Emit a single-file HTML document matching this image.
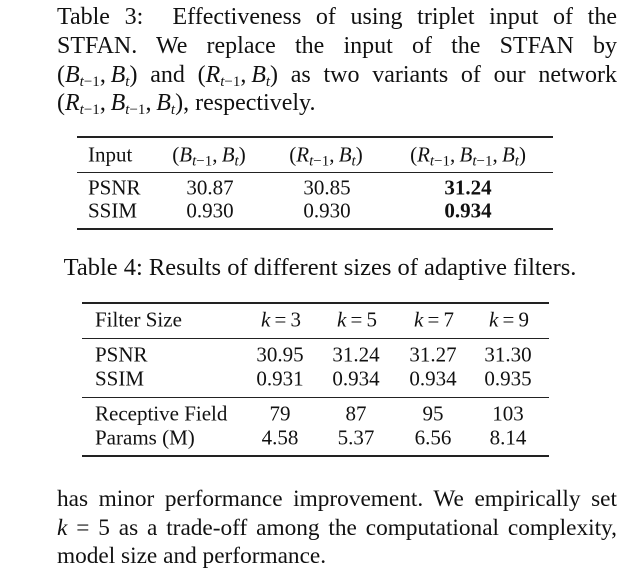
<!DOCTYPE html>
<html><head><meta charset="utf-8"><style>
body{margin:0;width:642px;height:578px;background:#fff;font-family:"Liberation Serif",serif;color:#111;position:relative;overflow:hidden}
.j{position:absolute;left:57px;width:560px;font-size:24px;line-height:28px;height:28px;text-align:justify;text-align-last:justify;white-space:nowrap;transform:translateY(-50%)}
.j.n{text-align-last:left}
.j.s{font-size:23.3px}
.t{position:absolute;font-size:21px;white-space:nowrap;transform:translate(-50%,-50%)}
.l{position:absolute;font-size:21px;white-space:nowrap;transform:translateY(-50%)}
.r{position:absolute;background:#222}
i{font-style:italic}sub{font-size:15px;vertical-align:-4px;line-height:0}
b{font-weight:bold}
</style></head><body>
<div>
<div class="j" style="top:17px">Table 3:&nbsp; Effectiveness of using triplet input of the</div>
<div class="j" style="top:46px">STFAN. We replace the input of the STFAN by</div>
<div class="j" style="top:75px">(<i>B</i><sub><i>t</i>−1</sub>,&thinsp;<i>B</i><sub><i>t</i></sub>) and (<i>R</i><sub><i>t</i>−1</sub>,&thinsp;<i>B</i><sub><i>t</i></sub>) as two variants of our network</div>
<div class="j n" style="top:103px">(<i>R</i><sub><i>t</i>−1</sub>,&thinsp;<i>B</i><sub><i>t</i>−1</sub>,&thinsp;<i>B</i><sub><i>t</i></sub>), respectively.</div>
</div>

<div>
<div class="r" style="left:77px;width:476px;top:136px;height:2px"></div>
<div class="l" style="left:88px;top:155px">Input</div>
<div class="t" style="left:209px;top:155px">(<i>B</i><sub><i>t</i>−1</sub>,&thinsp;<i>B</i><sub><i>t</i></sub>)</div>
<div class="t" style="left:326px;top:155px">(<i>R</i><sub><i>t</i>−1</sub>,&thinsp;<i>B</i><sub><i>t</i></sub>)</div>
<div class="t" style="left:468px;top:155px">(<i>R</i><sub><i>t</i>−1</sub>,&thinsp;<i>B</i><sub><i>t</i>−1</sub>,&thinsp;<i>B</i><sub><i>t</i></sub>)</div>
<div class="r" style="left:77px;width:476px;top:172px;height:1px"></div>
<div class="l" style="left:88px;top:188px">PSNR</div>
<div class="t" style="left:210px;top:188px">30.87</div>
<div class="t" style="left:327px;top:188px">30.85</div>
<div class="t" style="left:468px;top:188px"><b>31.24</b></div>
<div class="l" style="left:88px;top:211px">SSIM</div>
<div class="t" style="left:210px;top:211px">0.930</div>
<div class="t" style="left:327px;top:211px">0.930</div>
<div class="t" style="left:468px;top:211px"><b>0.934</b></div>
<div class="r" style="left:77px;width:476px;top:228px;height:2px"></div>
</div>

<div class="t" style="left:320px;top:268px;font-size:24.5px">Table 4: Results of different sizes of adaptive filters.</div>

<div>
<div class="r" style="left:82px;width:467px;top:302px;height:2px"></div>
<div class="l" style="left:95px;top:320px">Filter Size</div>
<div class="t" style="left:281px;top:320px"><i>k</i>&thinsp;=&thinsp;3</div>
<div class="t" style="left:357px;top:320px"><i>k</i>&thinsp;=&thinsp;5</div>
<div class="t" style="left:434px;top:320px"><i>k</i>&thinsp;=&thinsp;7</div>
<div class="t" style="left:509px;top:320px"><i>k</i>&thinsp;=&thinsp;9</div>
<div class="r" style="left:82px;width:467px;top:338px;height:1px"></div>
<div class="l" style="left:95px;top:355px">PSNR</div>
<div class="t" style="left:280px;top:355px">30.95</div>
<div class="t" style="left:356px;top:355px">31.24</div>
<div class="t" style="left:433px;top:355px">31.27</div>
<div class="t" style="left:508px;top:355px">31.30</div>
<div class="l" style="left:95px;top:379px">SSIM</div>
<div class="t" style="left:280px;top:379px">0.931</div>
<div class="t" style="left:356px;top:379px">0.934</div>
<div class="t" style="left:433px;top:379px">0.934</div>
<div class="t" style="left:508px;top:379px">0.935</div>
<div class="r" style="left:82px;width:467px;top:397px;height:1px"></div>
<div class="l" style="left:95px;top:414px">Receptive Field</div>
<div class="t" style="left:280px;top:414px">79</div>
<div class="t" style="left:356px;top:414px">87</div>
<div class="t" style="left:433px;top:414px">95</div>
<div class="t" style="left:508px;top:414px">103</div>
<div class="l" style="left:95px;top:438px">Params (M)</div>
<div class="t" style="left:280px;top:438px">4.58</div>
<div class="t" style="left:356px;top:438px">5.37</div>
<div class="t" style="left:433px;top:438px">6.56</div>
<div class="t" style="left:508px;top:438px">8.14</div>
<div class="r" style="left:82px;width:467px;top:455px;height:2px"></div>
</div>

<div>
<div class="j s" style="top:499px">has minor performance improvement. We empirically set</div>
<div class="j s" style="top:528px"><i>k</i>&nbsp;=&nbsp;5 as a trade-off among the computational complexity,</div>
<div class="j s n" style="top:556px">model size and performance.</div>
</div>
</body></html>
